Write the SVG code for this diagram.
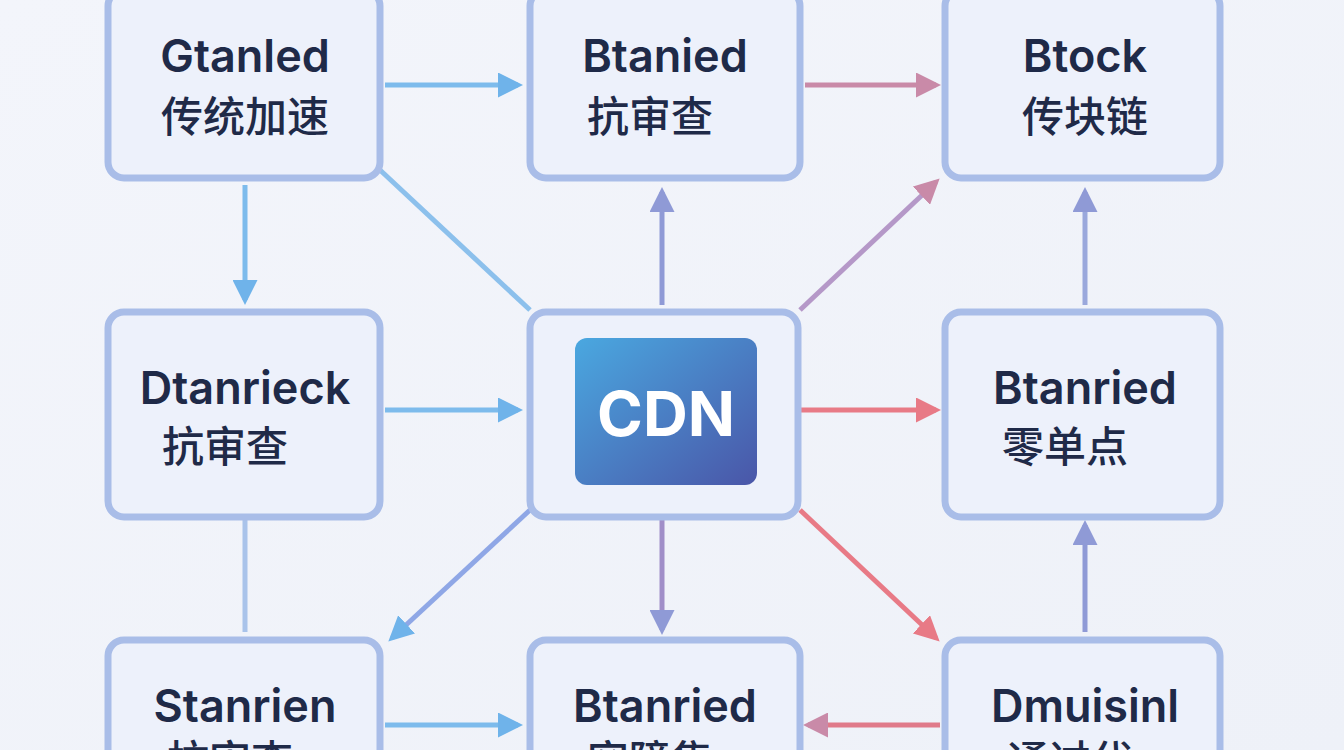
<svg xmlns="http://www.w3.org/2000/svg" width="1344" height="750" viewBox="0 0 1344 750">
<defs>
<linearGradient id="bg" x1="0" y1="0" x2="1" y2="1"><stop offset="0" stop-color="#f3f5fb"/><stop offset="1" stop-color="#eef1f8"/></linearGradient>
<linearGradient id="cdn" x1="0" y1="0" x2="1" y2="1"><stop offset="0" stop-color="#4aa8e0"/><stop offset="1" stop-color="#4a56a8"/></linearGradient>
<marker id="ab" viewBox="0 0 10 10" refX="8" refY="5" markerWidth="5" markerHeight="5" orient="auto"><path d="M0,0 L10,5 L0,10 Z" fill="#6fb3ea"/></marker>
<marker id="ap" viewBox="0 0 10 10" refX="8" refY="5" markerWidth="5" markerHeight="5" orient="auto"><path d="M0,0 L10,5 L0,10 Z" fill="#c98aa8"/></marker>
<marker id="ar" viewBox="0 0 10 10" refX="8" refY="5" markerWidth="5" markerHeight="5" orient="auto"><path d="M0,0 L10,5 L0,10 Z" fill="#e87a86"/></marker>
<marker id="av" viewBox="0 0 10 10" refX="8" refY="5" markerWidth="5" markerHeight="5" orient="auto"><path d="M0,0 L10,5 L0,10 Z" fill="#8f9ad6"/></marker>
</defs>
<style>
.box{fill:#edf1fb;stroke:#a9bde8;stroke-width:7}
.t{font-family:Inter,"Noto Sans","Noto Sans CJK SC",sans-serif;font-size:45px;fill:#1f2a48;text-anchor:middle;font-weight:600}
.c{font-family:"Noto Sans CJK SC",sans-serif;font-size:42px;fill:#1f2a48;text-anchor:middle;font-weight:500}
.l{fill:none;stroke-width:5}
</style>
<rect width="1344" height="750" fill="url(#bg)"/>
<g id="connectors">
<line class="l" x1="385" y1="85" x2="518" y2="85" stroke="#7dbbec" marker-end="url(#ab)"/>
<line class="l" x1="805" y1="85" x2="936" y2="85" stroke="#c98aa8" marker-end="url(#ap)"/>
<line class="l" x1="245" y1="185" x2="245" y2="300" stroke="#7dbbec" marker-end="url(#ab)"/>
<line class="l" x1="385" y1="410" x2="518" y2="410" stroke="#7dbbec" marker-end="url(#ab)"/>
<line class="l" x1="795" y1="410" x2="936" y2="410" stroke="#e87a86" marker-end="url(#ar)"/>
<line class="l" x1="662" y1="305" x2="662" y2="192" stroke="#8f9ad6" marker-end="url(#av)"/>
<line class="l" x1="800" y1="310" x2="936" y2="182" stroke="#b598c8" marker-end="url(#ap)"/>
<line class="l" x1="380" y1="170" x2="530" y2="310" stroke="#8cc0ec"/>
<line class="l" x1="1085" y1="305" x2="1085" y2="192" stroke="#9aa8dc" marker-end="url(#av)"/>
<line class="l" x1="1085" y1="632" x2="1085" y2="525" stroke="#8f9ad6" marker-end="url(#av)"/>
<line class="l" x1="530" y1="510" x2="392" y2="638" stroke="#8fa7e6" marker-end="url(#ab)"/>
<line class="l" x1="662" y1="520" x2="662" y2="630" stroke="#a08ec8" marker-end="url(#av)"/>
<line class="l" x1="800" y1="510" x2="936" y2="638" stroke="#e87a86" marker-end="url(#ar)"/>
<line class="l" x1="385" y1="725" x2="518" y2="725" stroke="#7dbbec" marker-end="url(#ab)"/>
<line class="l" x1="940" y1="725" x2="808" y2="725" stroke="#e07a8a" marker-end="url(#ap)"/>
<line class="l" x1="245" y1="520" x2="245" y2="632" stroke="#a9c3ea"/>
</g>
<g id="n1"><rect class="box" x="108" y="-10" width="272" height="188" rx="16"/><text class="t" x="245" y="72">Gtanled</text><text class="c" x="245" y="132">传统加速</text></g>
<g id="n2"><rect class="box" x="530" y="-10" width="270" height="188" rx="16"/><text class="t" x="665" y="72">Btanied</text><text class="c" x="650" y="132">抗审查</text></g>
<g id="n3"><rect class="box" x="945" y="-10" width="275" height="188" rx="16"/><text class="t" x="1085" y="72">Btock</text><text class="c" x="1085" y="132">传块链</text></g>
<g id="n4"><rect class="box" x="108" y="312" width="272" height="205" rx="16"/><text class="t" x="245" y="404">Dtanrieck</text><text class="c" x="225" y="462">抗审查</text></g>
<g id="cdn"><rect class="box" x="530" y="312" width="268" height="205" rx="16"/><rect x="575" y="338" width="182" height="147" rx="12" fill="url(#cdn)"/><text x="666" y="436" font-family="Inter,sans-serif" font-size="62" font-weight="700" fill="#fff" text-anchor="middle">CDN</text></g>
<g id="n6"><rect class="box" x="945" y="312" width="275" height="205" rx="16"/><text class="t" x="1085" y="404">Btanried</text><text class="c" x="1065" y="462">零单点</text></g>
<g id="n7"><rect class="box" x="108" y="640" width="272" height="140" rx="16"/><text class="t" x="245" y="722">Stanrien</text><text class="c" x="230" y="776">抗审查</text></g>
<g id="n8"><rect class="box" x="530" y="640" width="270" height="140" rx="16"/><text class="t" x="665" y="722">Btanried</text><text class="c" x="650" y="776">容障集</text></g>
<g id="n9"><rect class="box" x="945" y="640" width="275" height="140" rx="16"/><text class="t" x="1085" y="722">Dmuisinl</text><text class="c" x="1070" y="776">通过代</text></g>
</svg>
